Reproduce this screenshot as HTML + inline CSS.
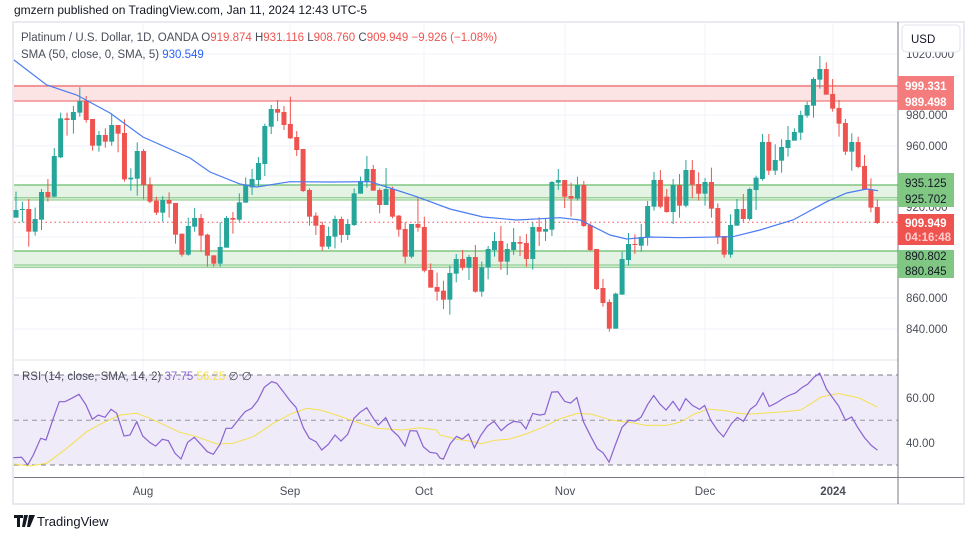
<!DOCTYPE html>
<html><head><meta charset="utf-8"><style>
body{margin:0;background:#fff;width:979px;height:539px;overflow:hidden;font-family:"Liberation Sans",sans-serif}
svg{position:absolute;left:0;top:0}
</style></head><body>
<svg id="s" width="979" height="539" xmlns="http://www.w3.org/2000/svg" font-family="Liberation Sans, sans-serif">
<rect x="13" y="22" width="951" height="482" fill="none" stroke="#e0e3eb" stroke-width="1.5"/>
<g id="grid" stroke="#f0f3fa" stroke-width="1"></g>
<rect x="14" y="86" width="884" height="15" fill="#fde4e4"/>
<line x1="14" y1="86" x2="898" y2="86" stroke="#f07a7a" stroke-width="1.5"/>
<line x1="14" y1="101" x2="898" y2="101" stroke="#f07a7a" stroke-width="1.2"/>
<rect x="14" y="185" width="884" height="15" fill="#e4f3e4"/>
<line x1="14" y1="185" x2="898" y2="185" stroke="#80c680" stroke-width="1.5"/>
<line x1="14" y1="197.7" x2="898" y2="197.7" stroke="#80c680" stroke-width="1"/>
<line x1="14" y1="200" x2="898" y2="200" stroke="#80c680" stroke-width="1"/>
<rect x="14" y="251" width="884" height="16" fill="#e4f3e4"/>
<line x1="14" y1="251" x2="898" y2="251" stroke="#80c680" stroke-width="1.5"/>
<line x1="14" y1="265" x2="898" y2="265" stroke="#80c680" stroke-width="1"/>
<line x1="14" y1="267.3" x2="898" y2="267.3" stroke="#80c680" stroke-width="1"/>
<line x1="14" y1="222.3" x2="898" y2="222.3" stroke="#f05050" stroke-width="1" stroke-dasharray="1.5,3"/>
<g id="candles"></g>
<polyline id="sma" fill="none" stroke="#4a7cf0" stroke-width="1.2"/>
<line x1="14" y1="360" x2="898" y2="360" stroke="#e0e3eb"/>
<rect x="14" y="375" width="884" height="90" fill="#efebf8"/>
<line x1="14" y1="375" x2="898" y2="375" stroke="#787b86" stroke-dasharray="5,4"/>
<line x1="14" y1="420.3" x2="898" y2="420.3" stroke="#9598a1" stroke-dasharray="5,4"/>
<line x1="14" y1="465" x2="898" y2="465" stroke="#787b86" stroke-dasharray="5,4"/>
<polyline id="rsima" fill="none" stroke="#f5e050" stroke-width="1"/>
<polyline id="rsi" fill="none" stroke="#8a63d2" stroke-width="1.2"/>
<line x1="14" y1="477.5" x2="964" y2="477.5" stroke="#787b86" stroke-width="1"/>
<line x1="898" y1="22" x2="898" y2="504" stroke="#787b86" stroke-width="1"/>
<g font-size="11.5" fill="#4a4e59">
<text x="143" y="495" text-anchor="middle">Aug</text>
<text x="290" y="495" text-anchor="middle">Sep</text>
<text x="424" y="495" text-anchor="middle">Oct</text>
<text x="565" y="495" text-anchor="middle">Nov</text>
<text x="705" y="495" text-anchor="middle">Dec</text>
<text x="833" y="495" text-anchor="middle" font-weight="bold">2024</text>
<text x="906" y="58">1020.000</text>
<text x="906" y="119">980.000</text>
<text x="906" y="150">960.000</text>
<text x="906" y="211">920.000</text>
<text x="906" y="302">860.000</text>
<text x="906" y="333">840.000</text>
<text x="906" y="402">60.00</text>
<text x="906" y="447">40.00</text>
</g>
<rect x="902" y="25" width="58" height="27" rx="4" fill="#fff" stroke="#e0e3eb"/>
<text x="911" y="43" font-size="11.5" fill="#131722">USD</text>
<rect x="898" y="76" width="56" height="34" fill="#f47c7c"/>
<text x="905" y="90" font-size="11.5" fill="#fff" font-weight="bold">999.331</text>
<text x="905" y="106" font-size="11.5" fill="#fff" font-weight="bold">989.498</text>
<rect x="898" y="173" width="56" height="34" fill="#81c784"/>
<text x="905" y="187" font-size="11.5" fill="#131722">935.125</text>
<text x="905" y="203" font-size="11.5" fill="#131722">925.702</text>
<rect x="898" y="214" width="56" height="31" fill="#ef5350"/>
<text x="905" y="227" font-size="11.5" fill="#fff" font-weight="bold">909.949</text>
<text x="905" y="241" font-size="11.5" fill="#fcc" font-weight="bold">04:16:48</text>
<rect x="898" y="250" width="56" height="28" fill="#81c784"/>
<text x="905" y="260" font-size="11.5" fill="#131722">890.802</text>
<text x="905" y="275" font-size="11.5" fill="#131722">880.845</text>
<text x="14" y="14" font-size="12" fill="#131722">gmzern published on TradingView.com, Jan 11, 2024 12:43 UTC-5</text>
<text x="21" y="41" font-size="11.5" fill="#4a4e59">Platinum / U.S. Dollar, 1D, OANDA <tspan fill="#4a4e59">O</tspan><tspan fill="#ef5350">919.874</tspan> <tspan fill="#4a4e59">H</tspan><tspan fill="#ef5350">931.116</tspan> <tspan fill="#4a4e59">L</tspan><tspan fill="#ef5350">908.760</tspan> <tspan fill="#4a4e59">C</tspan><tspan fill="#ef5350">909.949</tspan> <tspan fill="#ef5350">−9.926 (−1.08%)</tspan></text>
<text x="21" y="58" font-size="11.5" fill="#4a4e59">SMA (50, close, 0, SMA, 5) <tspan fill="#2962ff">930.549</tspan></text>
<text x="22" y="380" font-size="11.5" fill="#4a4e59">RSI (14, close, SMA, 14, 2) <tspan fill="#8a63d2">37.75</tspan> <tspan fill="#f5e050">56.25</tspan> ∅ ∅</text>
<g transform="translate(14,515)"><path d="M0 0h9v3h-3v9h-3v-9h-3z M10 0h4l-3 12h-3z M15 0h6l-5 12h-3z" fill="#131722"/></g>
<text x="37" y="526" font-size="13" fill="#131722">TradingView</text>
</svg>
<script>
var ns="http://www.w3.org/2000/svg";
function el(p,t,a){var e=document.createElementNS(ns,t);for(var k in a)e.setAttribute(k,a[k]);p.appendChild(e);return e;}
var g=document.getElementById('grid');
[54,85,115,146,176,207,237,268,298,329].forEach(function(y){el(g,'line',{x1:14,x2:898,y1:y,y2:y});});
[398,443].forEach(function(y){el(g,'line',{x1:14,x2:898,y1:y,y2:y});});
[143,290,424,565,705,833].forEach(function(x){el(g,'line',{x1:x,x2:x,y1:22,y2:477});});
var segs=[[60,[
"G 450 473 395 473","G 447 450 425 487","R 447 515 417 560","G 477 515 443 527","G 396 479 387 510","R 396 411 357 425","G 288 410 264 412","G 175 292 158 294","R 175 180 158 227","G 156 180 138 221","G 123 158 82 170","R 123 180 108 188","R 177 257 177 272","G 225 257 213 275","R 225 245 205 263","G 195 245 160 257","R 195 221 195 277","R 219 358 178 365","G 353 358 325 392","G 273 356 247 407","R 273 375 267 418","R 373 425 352 430","R 422 458 410 465","G 420 458 408 485","R 420 431 397 473","R 429 524 429 551","R 521 584 521 590","G 498 584 473 587","G 474 500 444 515","R 474 527 462 575","R 524 587 521 620","R 586 611 586 620","G 561 611 487 620","G 474 563 468 563","R 474 479 456 521","G 427 479 400 485"]],
[80,["G 316 368 292 368","G 297 322 267 345","G 249 300 231 318","G 138 252 131 288","G 87 140 75 162","R 87 98 60 123","R 96 135 78 150","R 132 175 50 177","R 171 210 153 228","R 207 333 207 336","R 330 410 325 437","R 407 437 397 465","R 435 500 425 512","G 468 500 440 507","G 417 470 407 505","R 417 465 410 488","G 432 465 417 480","G 340 435 325 438","G 303 341 290 341","G 267 305 228 323","R 267 332 255 332","R 330 375 325 400","G 327 375 264 375","R 327 410 320 415","R 407 449 405 470","R 447 530 427 551","G 432 530 432 535","R 432 443 350 455","R 441 572 410 577","R 570 623 550 623","R 621 635 578 662","R 632 659 602 687","G 579 659 557 704","G 537 581 522 607"]],
[140,["R 357 383 330 391","G 351 383 345 420","R 351 455 315 458","G 382 455 365 470","G 327 382 318 418","G 303 330 277 350","R 303 365 258 390","G 327 365 310 405","G 306 330 264 345","R 306 311 288 348","R 309 357 282 380","G 261 357 247 389","R 261 275 232 318","G 267 275 237 303","G 126 269 123 288","G 120 128 87 150","R 120 170 120 204","R 168 176 128 230","G 135 176 110 182","R 135 258 123 261","R 255 330 250 333","R 327 447 327 450","R 444 489 417 500","R 486 566 478 575","G 461 566 458 566","G 357 464 335 464","G 312 360 279 377","R 312 315 283 342","G 291 317 252 335","G 198 293 183 317","G 120 200 96 212","R 120 200 90 205","R 170 216 147 218","G 135 216 117 252"]],
[50,["R 405 467 372 503","G 360 467 330 472","R 360 404 330 445","R 402 431 367 452","G 396 431 384 467","R 396 476 353 503","R 474 560 460 582","R 558 614 558 623","G 525 614 493 623","G 477 527 447 527","R 477 507 432 517","G 417 507 413 512","G 383 420 377 480","G 276 387 252 392","R 276 362 252 375","G 330 362 283 375","G 291 332 268 368","G 270 294 228 320","G 246 272 235 272","G 195 248 182 270","G 165 197 155 203","G 87 167 82 203","G 57 89 18 116","R 57 134 37 134","R 132 176 87 185","R 174 221 150 260","R 219 305 207 315","G 276 305 250 362","R 276 351 260 355","R 348 418 315 418","R 418 473 385 487","R 471 519 448 522"]]];
var cg=document.getElementById('candles'),i=0;
segs.forEach(function(sg){var off=sg[0];sg[1].forEach(function(s){var p=s.split(' '),c=p[0]=='G'?'#26a69a':'#ef5350';
var x=16+6.38*i,bt=+p[1]/3+off,bb=+p[2]/3+off,wt=Math.min(+p[3]/3+off,bt),wb=Math.max(+p[4]/3+off,bb);
el(cg,'line',{x1:x,x2:x,y1:wt,y2:wb,stroke:c,'stroke-width':1});
el(cg,'rect',{x:x-2.5,y:bt,width:5,height:Math.max(bb-bt,1),fill:c});i++;});});
document.getElementById('sma').setAttribute('points',"14,60 46.7,85 76.7,95 110,113 143,137 190,158 210,172 240,184 256.7,187 290,181.7 330,182 370,181.7 390,188 416.7,196.7 450,209 483,217 516.7,220 560,217.7 580,220 610,235 626.7,239 650,237 680,237.7 733,236.7 760,230 793,220 826.7,201.7 846.7,193 866.7,189 878,190.7");
function pts(a,sx,ox,sy,oy){var r=[];for(var k=0;k<a.length;k+=2)r.push((a[k]/sx+ox).toFixed(1)+','+(a[k+1]/sy+oy).toFixed(1));return r.join(' ');}
var r1=[40,308,65,307,83,330,100,300,122,250,138,255,160,190,178,140,195,140,215,130,237,118,258,150,277,193,295,180,315,187,333,163,350,175,372,243,390,240,410,200,428,243,450,263,467,273,487,253,505,257,525,295,543,312,563,262,583,247,602,268,622,290,640,298,660,268,678,220,695,220,717,192,735,170,755,160,773,137,793,97,815,80,830,85,850,110,870,137,888,157,910,218,928,250,948,260,965,285,985,268,1005,240,1023,258,1043,238,1062,190,1080,172,1100,158,1120,190,1135,210,1157,188,1175,225,1195,243,1215,273,1230,227,1250,228,1270,275,1290,292,1310,295];
var r2=[0,300,10,303,30,258,48,237,65,245,83,230,100,270,118,235,138,207,157,193,178,220,197,203,215,193,235,196,250,215,270,170,290,175,305,172,325,108,343,107,363,135,380,140,398,124,418,195,438,235,458,273,475,285,492,312,510,262,530,210,550,190,568,192,585,181,605,143,622,118,640,143,658,160,678,135,697,162,715,127,735,147,755,158,770,147,788,190,808,220,825,238,848,200,865,182,883,193,903,158,920,145,940,110,958,150,978,140,998,127,1015,118,1035,110,1053,95,1070,85,1088,65,1105,53,1125,100,1160,148,1180,190,1198,180,1215,210,1235,240,1255,263,1273,277];
document.getElementById('rsi').setAttribute('points',pts(r1,3,0,3,355)+' '+pts(r2,2.91,440,2.91,355));
var y1=[40,327,90,333,140,325,200,280,260,230,300,208,360,180,410,175,450,190,540,232,590,245,650,267,700,265,760,245,820,205,870,178,920,160,960,165,1000,177,1060,198,1130,220,1210,225,1260,218,1310,225];
var y2=[0,233,50,245,100,253,120,258,160,248,200,245,250,230,300,210,350,185,400,170,440,172,500,190,560,197,600,205,660,205,700,195,740,172,780,157,830,162,870,170,900,172,960,168,1000,165,1050,160,1110,122,1160,112,1220,125,1273,152];
document.getElementById('rsima').setAttribute('points',pts(y1,3,0,3,355)+' '+pts(y2,2.91,440,2.91,355));
</script>
</body></html>
